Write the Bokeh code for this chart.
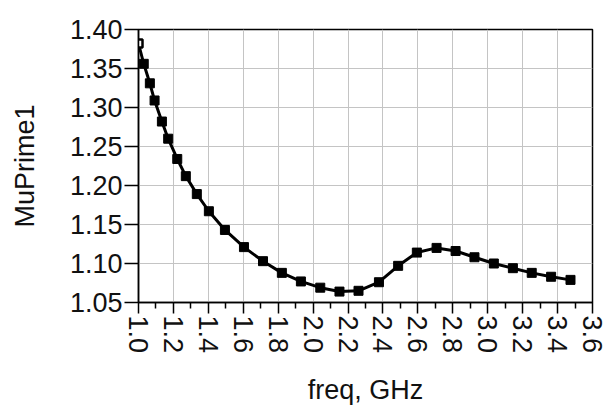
import math
from bokeh.plotting import figure
from bokeh.models import Range1d, FixedTicker
from bokeh.embed import file_html
from bokeh.resources import INLINE

freq = [1.000, 1.030, 1.065, 1.092, 1.134, 1.170, 1.222, 1.271, 1.334, 1.403,
        1.495, 1.604, 1.713, 1.821, 1.930, 2.041, 2.151, 2.260, 2.377, 2.487,
        2.594, 2.707, 2.816, 2.924, 3.035, 3.144, 3.252, 3.363, 3.474]
mu = [1.382, 1.356, 1.331, 1.309, 1.282, 1.260, 1.234, 1.212, 1.189, 1.167,
      1.143, 1.121, 1.103, 1.088, 1.077, 1.069, 1.064, 1.065, 1.076, 1.097,
      1.114, 1.120, 1.116, 1.108, 1.100, 1.094, 1.088, 1.083, 1.079]

x_ticks = [1.0, 1.2, 1.4, 1.6, 1.8, 2.0, 2.2, 2.4, 2.6, 2.8, 3.0, 3.2, 3.4, 3.6]
x_minor = [1.1, 1.3, 1.5, 1.7, 1.9, 2.1, 2.3, 2.5, 2.7, 2.9, 3.1, 3.3, 3.5]
y_ticks = [1.05, 1.10, 1.15, 1.20, 1.25, 1.30, 1.35, 1.40]

FONT = "Liberation Sans"

p = figure(width=606, height=403, frame_width=454, frame_height=273,
           x_range=Range1d(1.0, 3.6), y_range=Range1d(1.05, 1.40),
           output_backend="svg", toolbar_location=None,
           min_border_left=138, min_border_right=14, min_border_top=29,
           min_border_bottom=101, background_fill_color="white",
           border_fill_color="white")

p.outline_line_color = "black"
p.outline_line_width = 1.5

p.xaxis.ticker = FixedTicker(ticks=x_ticks, minor_ticks=x_minor)
p.yaxis.ticker = FixedTicker(ticks=y_ticks)
p.xaxis.major_label_overrides = {t: f"{t:.1f}" for t in x_ticks}
p.yaxis.major_label_overrides = {t: f"{t:.2f}" for t in y_ticks}

for ax in (p.xaxis[0], p.yaxis[0]):
    ax.axis_line_color = "black"
    ax.axis_line_width = 1.5
    ax.major_tick_line_color = "black"
    ax.minor_tick_line_color = "black"
    ax.major_tick_line_width = 1.5
    ax.minor_tick_line_width = 1.5
    ax.major_tick_in = 0
    ax.minor_tick_in = 0
    ax.major_label_text_font = FONT
    ax.major_label_text_font_size = "27px"
    ax.major_label_text_color = "#111111"
    ax.axis_label_text_font = FONT
    ax.axis_label_text_font_size = "27px"
    ax.axis_label_text_font_style = "normal"
    ax.axis_label_text_color = "#111111"

p.xaxis.major_tick_out = 11
p.xaxis.minor_tick_out = 6
p.xaxis.major_label_orientation = -math.pi / 2
p.xaxis.major_label_standoff = 2
p.xaxis.axis_label = "freq, GHz"
p.xaxis.axis_label_standoff = 19

p.yaxis.major_tick_out = 14
p.yaxis.minor_tick_out = 0
p.yaxis.major_label_standoff = 2
p.yaxis.axis_label = "MuPrime1"
p.yaxis.axis_label_standoff = 27

p.xgrid.grid_line_color = "#c4c4c4"
p.xgrid.grid_line_width = 1
p.ygrid.grid_line_color = "#c4c4c4"
p.ygrid.grid_line_width = 1

p.line(freq, mu, line_color="black", line_width=3)
p.scatter(freq[1:], mu[1:], marker="square", size=9, fill_color="black",
          line_color="black")
p.scatter(freq[:1], mu[:1], marker="square", size=8, fill_color="white",
          line_color="black", line_width=2.5)

open("out.html", "w").write(file_html(p, INLINE))
